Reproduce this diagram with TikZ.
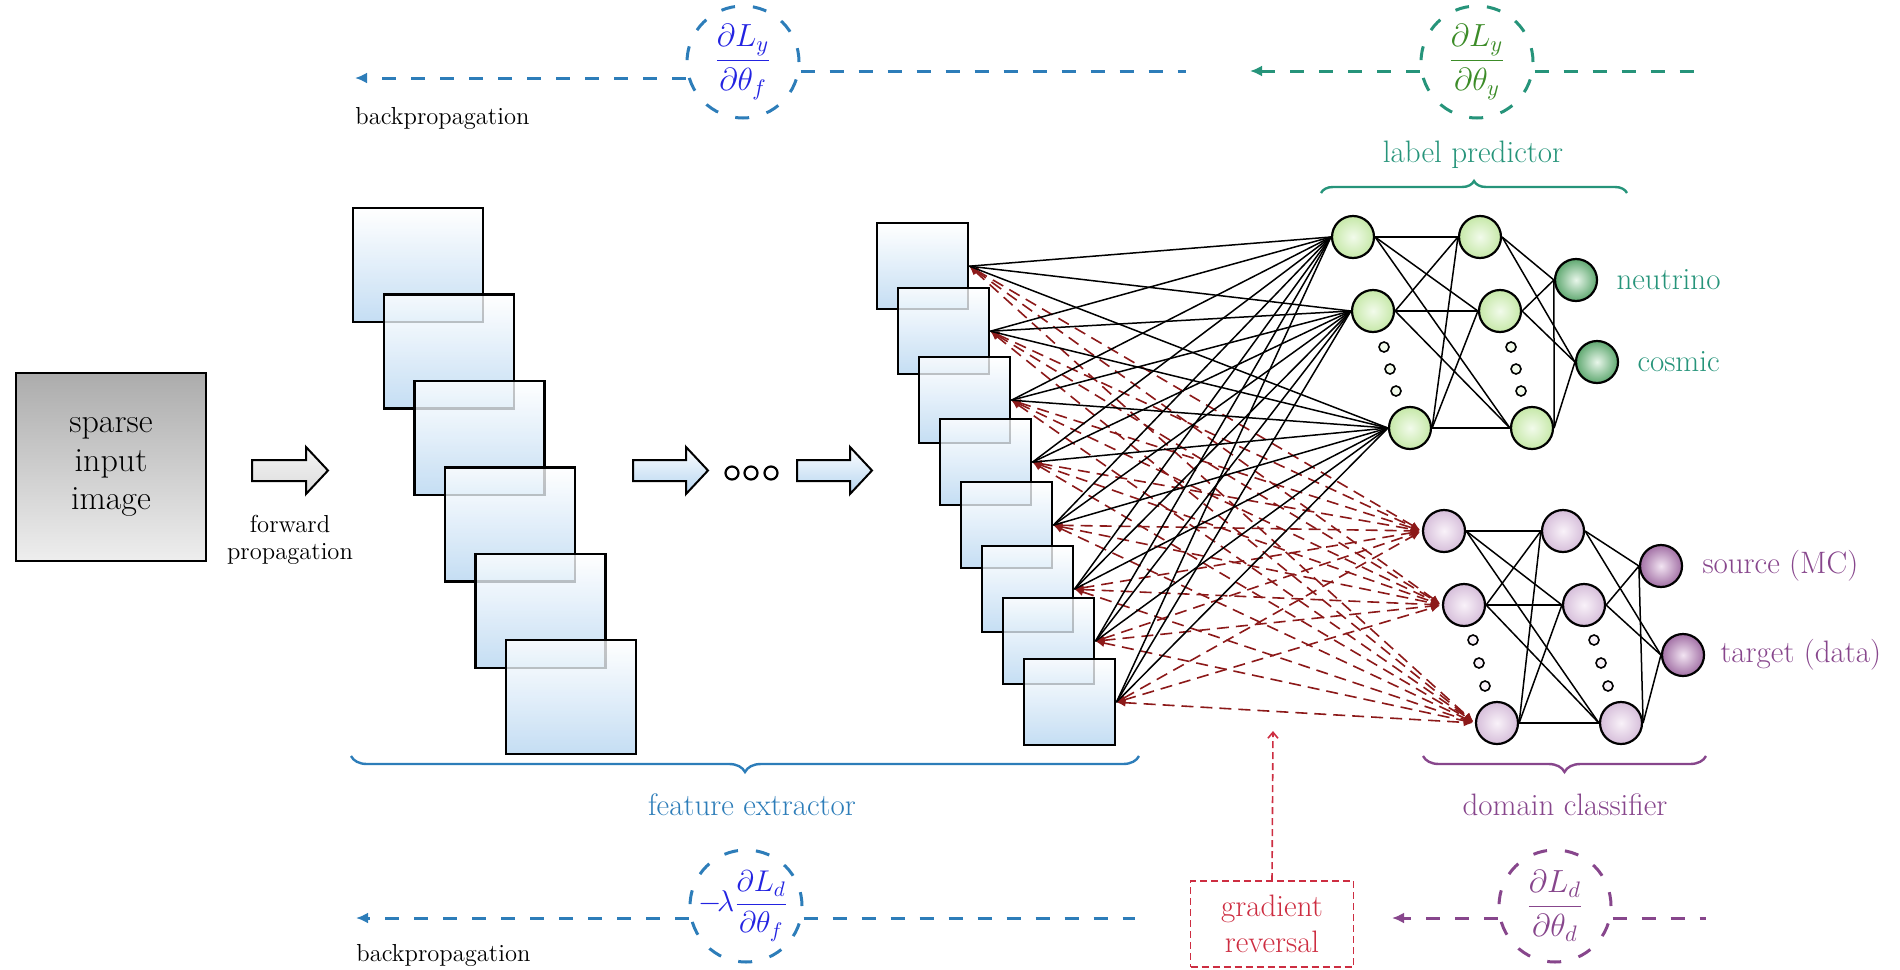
\RequirePackage{fix-cm}
\documentclass[tikz,border=0pt]{standalone}
\usepackage{fontspec}
\usetikzlibrary{arrows.meta,decorations.pathreplacing}
\definecolor{fblue}{RGB}{45,125,185}
\definecolor{mblue}{RGB}{35,35,225}
\definecolor{teal2}{RGB}{38,148,122}
\definecolor{mgreen}{RGB}{60,140,40}
\definecolor{purp}{RGB}{135,70,140}
\definecolor{rev}{RGB}{205,45,65}
\definecolor{dred}{RGB}{140,25,25}
\definecolor{sqblue}{RGB}{180,212,240}
\definecolor{gtop}{RGB}{172,172,172}
\definecolor{gbot}{RGB}{238,238,238}
\definecolor{gin}{RGB}{242,251,235}
\definecolor{gout}{RGB}{198,232,168}
\definecolor{goin}{RGB}{232,246,234}
\definecolor{goout}{RGB}{95,168,112}
\definecolor{pin}{RGB}{249,242,249}
\definecolor{pout}{RGB}{214,190,218}
\definecolor{poin}{RGB}{242,228,242}
\definecolor{poout}{RGB}{162,112,165}
\newcommand{\myfs}[2]{\fontsize{#1}{#2}\selectfont}
\newcommand{\myblockarrow}[3]{%
  \draw[line width=1pt,#3] (#1,460) -- ({#2-22},460) -- ({#2-22},447) -- (#2,470.5)
     -- ({#2-22},494) -- ({#2-22},481) -- (#1,481) -- cycle;}
\begin{document}
\begin{tikzpicture}[x=0.5pt,y=-0.5pt,
  inbox/.style={draw=black,line width=1.2pt,top color=gtop,bottom color=gbot,
     minimum width=95pt,minimum height=94pt,align=center,inner sep=0,
     font=\myfs{17}{19.3}},
  fmapA/.style={draw=black,line width=1.2pt,top color=white,bottom color=sqblue,
     fill opacity=0.78,draw opacity=1,minimum width=65pt,minimum height=57pt,
     anchor=north west,inner sep=0},
  fmapB/.style={fmapA,minimum width=45.5pt,minimum height=43pt},
  gnode/.style={circle,draw=black,line width=1.1pt,inner color=gin,outer color=gout,
     minimum size=21pt,inner sep=0},
  gonode/.style={gnode,inner color=goin,outer color=goout},
  pnode/.style={gnode,inner color=pin,outer color=pout},
  ponode/.style={gnode,inner color=poin,outer color=poout},
  gdot/.style={circle,draw=black,line width=0.8pt,fill=gin,minimum size=5pt,inner sep=0},
  pdot/.style={gdot,fill=pin},
  cdot/.style={circle,draw=black,line width=1.1pt,fill=white,minimum size=6.5pt,inner sep=0},
  conn/.style={line width=0.75pt,black},
  rline/.style={line width=0.8pt,dred,dash pattern=on 6pt off 3.5pt,
     {Latex[length=4.5pt,width=4pt]}-{Latex[length=4.5pt,width=4pt]},shorten >=1pt},
  lab/.style={inner sep=0,font=\myfs{15.5}{18}},
  small/.style={inner sep=0,font=\myfs{12.3}{13.5},align=center},
  gcirc/.style={circle,line width=1.5pt,dash pattern=on 7pt off 9pt,minimum size=56pt,
     inner sep=0,font=\myfs{16}{18}},
  bdash/.style={line width=1.5pt,dash pattern=on 7pt off 7.5pt},
  tip/.style={-{Latex[length=6pt,width=5.5pt]}},
  brc/.style={line width=1.2pt,decorate},
]
\useasboundingbox (0,0) rectangle (1900,969);

% input image
\node[inbox] (inp) at (111,467) {sparse\\input\\image};
\myblockarrow{252}{328}{top color=gray!8,bottom color=gray!28}
\node[small] (fwd) at (290,540) {forward\\propagation};

% first stack of feature maps
\foreach \i in {0,...,5}
  \node[fmapA] (fa\i) at ({352+30.6*\i},{207+86.4*\i}) {};

\myblockarrow{633}{708}{top color=white,bottom color=sqblue}
\node[cdot] (dt1) at (732,473) {};
\node[cdot] (dt2) at (751,473) {};
\node[cdot] (dt3) at (771,473) {};
\myblockarrow{797}{872}{top color=white,bottom color=sqblue}

% second stack of feature maps
\foreach \i/\yy in {1/222,2/287,3/356,4/418,5/481,6/545,7/597,8/658}
  \node[fmapB] (s\i) at ({876+21*(\i-1)},\yy) {};

% label predictor
\node[gnode] (a1) at (1353,237) {};
\node[gnode] (a2) at (1373,311) {};
\node[gnode] (a3) at (1410,428) {};
\node[gnode] (b1) at (1480,237) {};
\node[gnode] (b2) at (1500,311) {};
\node[gnode] (b3) at (1532,428) {};
\node[gonode] (n1) at (1576,280) {};
\node[gonode] (n2) at (1597,362) {};
\node[gdot] (ga1) at (1384,347) {};
\node[gdot] (ga2) at (1390,369) {};
\node[gdot] (ga3) at (1396,391) {};
\node[gdot] (gb1) at (1511,347) {};
\node[gdot] (gb2) at (1516,369) {};
\node[gdot] (gb3) at (1521,391) {};

% domain classifier
\node[pnode] (d1) at (1444,531) {};
\node[pnode] (d2) at (1464,605) {};
\node[pnode] (d3) at (1497,723) {};
\node[pnode] (e1) at (1563,531) {};
\node[pnode] (e2) at (1584,605) {};
\node[pnode] (e3) at (1621,723) {};
\node[ponode] (o1) at (1661,566) {};
\node[ponode] (o2) at (1683,655) {};
\node[pdot] (pa1) at (1473,640) {};
\node[pdot] (pa2) at (1479,663) {};
\node[pdot] (pa3) at (1485,686) {};
\node[pdot] (pb1) at (1594,640) {};
\node[pdot] (pb2) at (1601,663) {};
\node[pdot] (pb3) at (1608,686) {};

% connections inside the networks
\foreach \u in {a1,a2,a3} \foreach \v in {b1,b2,b3} \draw[conn] (\u.east) -- (\v.west);
\foreach \u in {b1,b2,b3} \foreach \v in {n1,n2} \draw[conn] (\u.east) -- (\v.west);
\foreach \u in {d1,d2,d3} \foreach \v in {e1,e2,e3} \draw[conn] (\u.east) -- (\v.west);
\foreach \u in {e1,e2,e3} \foreach \v in {o1,o2} \draw[conn] (\u.east) -- (\v.west);

% feature maps to networks
\foreach \i in {1,...,8} \foreach \v in {d1,d2,d3} \draw[rline] (s\i.east) -- (\v.west);
\foreach \i in {1,...,8} \foreach \v in {a1,a2,a3} \draw[conn] (s\i.east) -- (\v.west);

% output labels
\node[lab,text=teal2,anchor=west] (tneu) at ([xshift=9pt]n1.east) {neutrino};
\node[lab,text=teal2,anchor=west] (tcos) at ([xshift=9pt]n2.east) {cosmic};
\node[lab,text=purp,anchor=west] (tsrc) at ([xshift=9.5pt]o1.east) {source (MC)};
\node[lab,text=purp,anchor=west] (ttgt) at ([xshift=7.5pt]o2.east) {target (data)};

% braces and group labels
\node[lab,text=teal2] (tlp) at (1473,155) {label predictor};
\draw[brc,teal2,decoration={brace,amplitude=6pt}] (1321,193) -- (1627,193);
\draw[brc,fblue,decoration={brace,amplitude=8pt}] (1139,756) -- (351,756);
\node[lab,text=fblue] (tfe) at (752,805) {feature extractor};
\draw[brc,purp,decoration={brace,amplitude=8pt}] (1706,756) -- (1423,756);
\node[lab,text=purp] (tdc) at (1565,805) {domain classifier};

% top gradients
\node[gcirc,draw=fblue,text=mblue] (gy) at (743,62) {$\displaystyle\frac{\partial L_y}{\partial\theta_f}$};
\coordinate (tl1) at (355,78);
\coordinate (tr1) at (1186,71);
\draw[bdash,fblue,tip] ([yshift=-8pt]gy.west) -- (tl1);
\draw[bdash,fblue] ([yshift=-4.5pt]gy.east) -- (tr1);
\node[small,anchor=west] (bp1) at (355,118) {backpropagation};

\node[gcirc,draw=teal2,text=mgreen] (gyy) at (1477,62) {$\displaystyle\frac{\partial L_y}{\partial\theta_y}$};
\coordinate (tl2) at (1250,71);
\coordinate (tr2) at (1695,71);
\draw[bdash,teal2,tip] ([yshift=-4.5pt]gyy.west) -- (tl2);
\draw[bdash,teal2] ([yshift=-4.5pt]gyy.east) -- (tr2);

% bottom gradients
\node[gcirc,draw=fblue,text=mblue,font=\myfs{15}{18}] (gd) at (746,906) {$\displaystyle\!-\!\lambda\frac{\partial L_d}{\partial\theta_f}$};
\coordinate (bl1) at (356,918);
\coordinate (br1) at (1135,918);
\draw[bdash,fblue,tip] ([yshift=-6pt]gd.west) -- (bl1);
\draw[bdash,fblue] ([yshift=-6pt]gd.east) -- (br1);
\node[small,anchor=west] (bp2) at (356,955) {backpropagation};

\node[gcirc,draw=purp,text=purp] (gdd) at (1555,906) {$\displaystyle\frac{\partial L_d}{\partial\theta_d}$};
\coordinate (bl2) at (1392,918);
\coordinate (br2) at (1706,918);
\draw[bdash,purp,tip] ([yshift=-6pt]gdd.west) -- (bl2);
\draw[bdash,purp] ([yshift=-6pt]gdd.east) -- (br2);

% gradient reversal
\node[draw=rev,text=rev,line width=0.9pt,dash pattern=on 3.5pt off 2pt,
      minimum width=81.5pt,minimum height=43pt,align=center,inner sep=0,
      font=\myfs{15.5}{18}] (grev) at (1272,924) {gradient\\reversal};
\coordinate (revtip) at (1273,731);
\draw[rev,line width=0.8pt,dash pattern=on 3.5pt off 2pt,-{Straight Barb[length=3pt,width=5pt]}]
  (grev.north) -- (revtip);
\end{tikzpicture}
\end{document}
